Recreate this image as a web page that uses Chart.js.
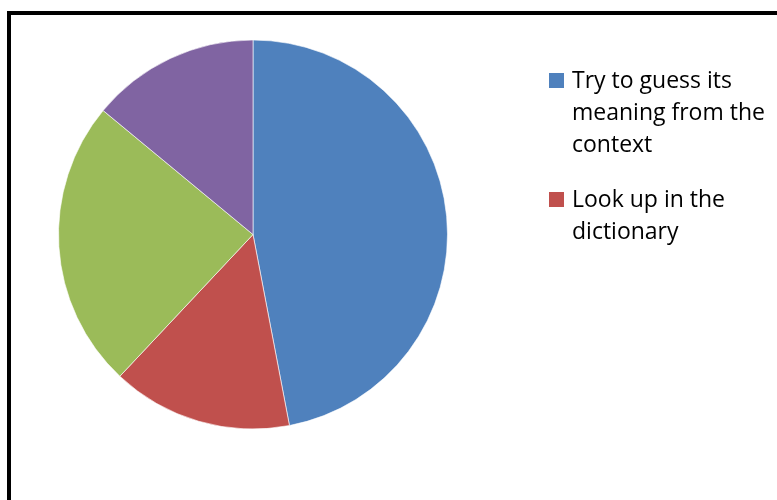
<!DOCTYPE html>
<html lang="en">
<head>
<meta charset="UTF-8" />
<title>Unknown words</title>
<script src="https://cdn.jsdelivr.net/npm/chart.js@4"></script>
<style>
  html, body { margin: 0; padding: 0; background: #fff; overflow: hidden; }
  #wrap { position: relative; width: 777px; height: 500px; }
  #frame { position: absolute; left: 7px; top: 11px; width: 820px; height: 540px; border: 4px solid #000; box-sizing: border-box; }
  canvas { position: absolute; left: 0; top: 0; }
</style>
</head>
<body>
<div id="wrap">
  <div id="frame"></div>
  <canvas id="chart" width="777" height="500"></canvas>
</div>
<script>
const labels = [
  "Try to guess its meaning from the context",
  "Look up in the dictionary",
  "Ask someone",
  "Skip the word",
];
const shares = [47, 15, 24, 14];
const colors = ["#4F81BD", "#C0504D", "#9BBB59", "#8064A2"];

// legend drawn on the canvas, wrapped to a fixed width; entries that
// would run past the bottom of the legend box are left out
const wrappedLegend = {
  id: "wrappedLegend",
  afterDraw(chart) {
    const ctx = chart.ctx;
    const x0 = 549, box = 15, textX = 572, maxW = 200, lineH = 32, gap = 23, maxY = 260;
    let base = 88;
    ctx.save();
    ctx.font = "23px 'Open Sans'";
    ctx.textBaseline = "alphabetic";
    chart.data.labels.forEach((lab, i) => {
      const words = lab.split(" ");
      const lines = [];
      let cur = "";
      words.forEach((w) => {
        const t = cur ? cur + " " + w : w;
        if (ctx.measureText(t).width > maxW && cur) { lines.push(cur); cur = w; }
        else cur = t;
      });
      if (cur) lines.push(cur);
      if (base + (lines.length - 1) * lineH > maxY) { base = Infinity; return; }
      ctx.fillStyle = chart.data.datasets[0].backgroundColor[i];
      ctx.fillRect(x0, base - box, box, box);
      ctx.fillStyle = "#000";
      lines.forEach((ln, k) => ctx.fillText(ln, textX, base + k * lineH));
      base += (lines.length - 1) * lineH + lineH + gap;
    });
    ctx.restore();
  },
};

new Chart(document.getElementById("chart"), {
  type: "pie",
  data: {
    labels,
    datasets: [{
      data: shares,
      backgroundColor: colors,
      borderColor: "rgba(255,255,255,0.6)",
      borderWidth: 1,
    }],
  },
  options: {
    responsive: false,
    animation: false,
    layout: { padding: { left: 58, top: 39, right: 329, bottom: 70 } },
    plugins: {
      legend: { display: false },
      tooltip: { enabled: false },
    },
  },
  plugins: [wrappedLegend],
});
</script>
</body>
</html>
